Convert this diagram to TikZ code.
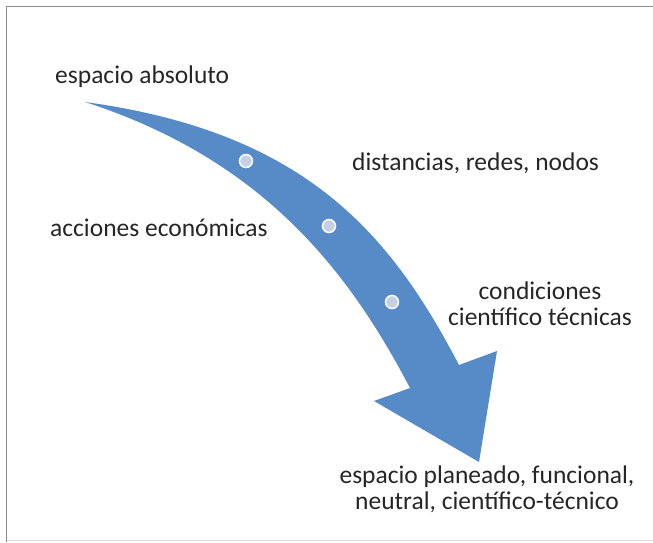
\documentclass[tikz,border=0pt]{standalone}
\usepackage{fontspec}
\setmainfont{Carlito}
\definecolor{arrowblue}{RGB}{86,139,199}
\definecolor{dotfill}{RGB}{197,208,228}
\definecolor{framegray}{RGB}{140,140,140}
\definecolor{framelight}{RGB}{225,225,225}
\begin{document}
\begin{tikzpicture}[x=1pt,y=-1pt,
  lbl/.style={inner sep=0pt,font=\fontsize{25.5}{26}\selectfont,text=black!85},
  dot/.style={circle,fill=dotfill,draw=white,line width=1.5pt,minimum size=13pt,inner sep=0pt}]
\useasboundingbox (0,0) rectangle (653,542);
% frame
\draw[framegray,line width=1.6pt] (6.5,542) -- (6.5,6.5) -- (653,6.5);
\draw[framelight,line width=1pt] (6.5,540) -- (653,540);
% curved arrow
\fill[arrowblue] (85,102) .. controls (305,132) and (390,233) .. (459,365)
  -- (497,351) -- (479,462) -- (374,401) -- (410,388)
  .. controls (350,273.6) and (265,160) .. (85,102) -- cycle;
\node[dot] (c1) at (246,161) {};
\node[dot] (c2) at (329,226) {};
\node[dot] (c3) at (392,302) {};
% labels
\node[lbl,anchor=west] (a) at (55,77) {espacio absoluto};
\node[lbl,anchor=west] (b) at (352,163) {distancias, redes, nodos};
\node[lbl,anchor=west] (c) at (50,228) {acciones económicas};
\node[lbl,align=center] (d) at (540,304) {condiciones\\científico técnicas};
\node[lbl,align=center] (e) at (487,489) {espacio planeado, funcional,\\neutral, científico-técnico};
\end{tikzpicture}
\end{document}
